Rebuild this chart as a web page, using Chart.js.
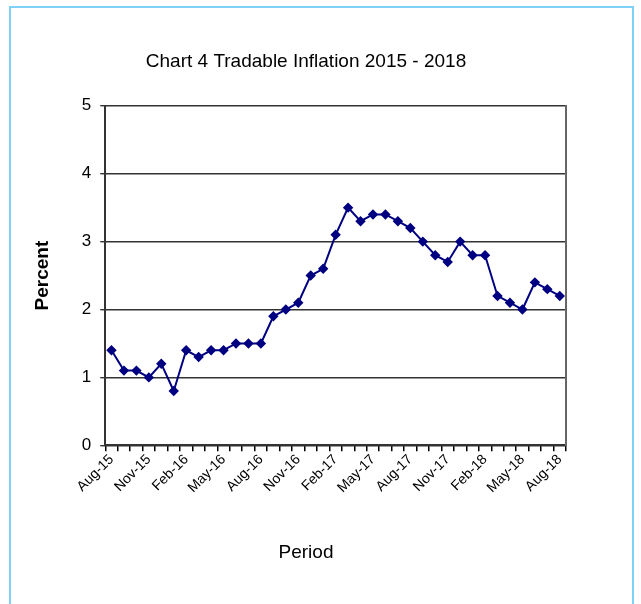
<!DOCTYPE html>
<html>
<head>
<meta charset="utf-8">
<script src="https://cdn.jsdelivr.net/npm/chart.js@4/dist/chart.umd.min.js"></script>
<style>
  html, body { margin: 0; padding: 0; background: #ffffff; }
  #frame { position: absolute; left: 9px; top: 6px; width: 621px; height: 640px; border: 2px solid #80d0f8; }
  #wrap { position: absolute; left: 0; top: 0; width: 641px; height: 604px; }
</style>
</head>
<body>
<div id="frame"></div>
<div id="wrap"><canvas id="c" width="641" height="604"></canvas></div>
<script>
const categories = [
  "Aug-15","Sep-15","Oct-15","Nov-15","Dec-15",
  "Jan-16","Feb-16","Mar-16","Apr-16","May-16","Jun-16","Jul-16","Aug-16","Sep-16","Oct-16","Nov-16","Dec-16",
  "Jan-17","Feb-17","Mar-17","Apr-17","May-17","Jun-17","Jul-17","Aug-17","Sep-17","Oct-17","Nov-17","Dec-17",
  "Jan-18","Feb-18","Mar-18","Apr-18","May-18","Jun-18","Jul-18","Aug-18"
];
const tradableInflation = [
  1.4, 1.1, 1.1, 1.0, 1.2,
  0.8, 1.4, 1.3, 1.4, 1.4, 1.5, 1.5, 1.5, 1.9, 2.0, 2.1, 2.5,
  2.6, 3.1, 3.5, 3.3, 3.4, 3.4, 3.3, 3.2, 3.0, 2.8, 2.7, 3.0,
  2.8, 2.8, 2.2, 2.1, 2.0, 2.4, 2.3, 2.2
];
const yTicks = [0, 1, 2, 3, 4, 5];
const titleText = "Chart 4 Tradable Inflation 2015 - 2018";
const xTitle = "Period";
const yTitle = "Percent";

new Chart(document.getElementById('c'), {
  type: 'line',
  data: {
    labels: categories,
    datasets: [{
      label: 'Tradable inflation',
      data: tradableInflation,
      borderColor: '#000080',
      backgroundColor: '#000080',
      borderWidth: 2,
      pointStyle: 'rectRot',
      pointRadius: 3.8,
      pointBackgroundColor: '#000080',
      pointBorderColor: '#000080',
      tension: 0
    }]
  },
  options: {
    responsive: false,
    animation: false,
    devicePixelRatio: 1,
    layout: { padding: { left: 10, right: 39, top: 50, bottom: 40 } },
    plugins: {
      legend: { display: false },
      tooltip: { enabled: false },
      title: {
        display: true,
        text: titleText,
        color: '#000000',
        font: { family: 'Liberation Sans', size: 19, weight: 'normal' },
        padding: { top: 0, bottom: 33 }
      },
      subtitle: {
        display: true,
        position: 'bottom',
        text: xTitle,
        color: '#000000',
        font: { family: 'Liberation Sans', size: 19, weight: 'normal' },
        padding: { top: 45, bottom: 0 }
      }
    },
    scales: {
      x: {
        offset: true,
        grid: {
          offset: true,
          drawOnChartArea: false,
          drawTicks: true,
          tickLength: 6,
          color: '#000000',
          lineWidth: 1.5
        },
        border: { display: true, color: '#333333', width: 2 },
        ticks: {
          autoSkip: false,
          maxRotation: 45,
          minRotation: 45,
          color: '#000000',
          padding: 0,
          font: { family: 'Liberation Sans', size: 14 },
          callback: function(v, i) { return i % 3 === 0 ? categories[i] : ''; }
        }
      },
      y: {
        min: 0,
        max: 5,
        afterBuildTicks: function(axis) { axis.ticks = yTicks.map(v => ({ value: v })); },
        grid: {
          color: '#333333',
          lineWidth: 1.4,
          drawTicks: true,
          tickLength: 5
        },
        border: { display: true, color: '#333333', width: 2 },
        ticks: {
          color: '#000000',
          padding: 9,
          font: { family: 'Liberation Sans', size: 17 }
        },
        title: {
          display: true,
          text: yTitle,
          color: '#000000',
          font: { family: 'Liberation Sans', size: 19, weight: 'bold' },
          padding: { top: 21, bottom: 19 }
        }
      },
      y2: {
        position: 'right',
        min: 0,
        max: 5,
        grid: { drawOnChartArea: false, drawTicks: false },
        border: { display: true, color: '#666666', width: 2 },
        ticks: { display: false },
        afterFit: function(scale) { scale.width = 36; }
      }
    }
  }
});
</script>
</body>
</html>
